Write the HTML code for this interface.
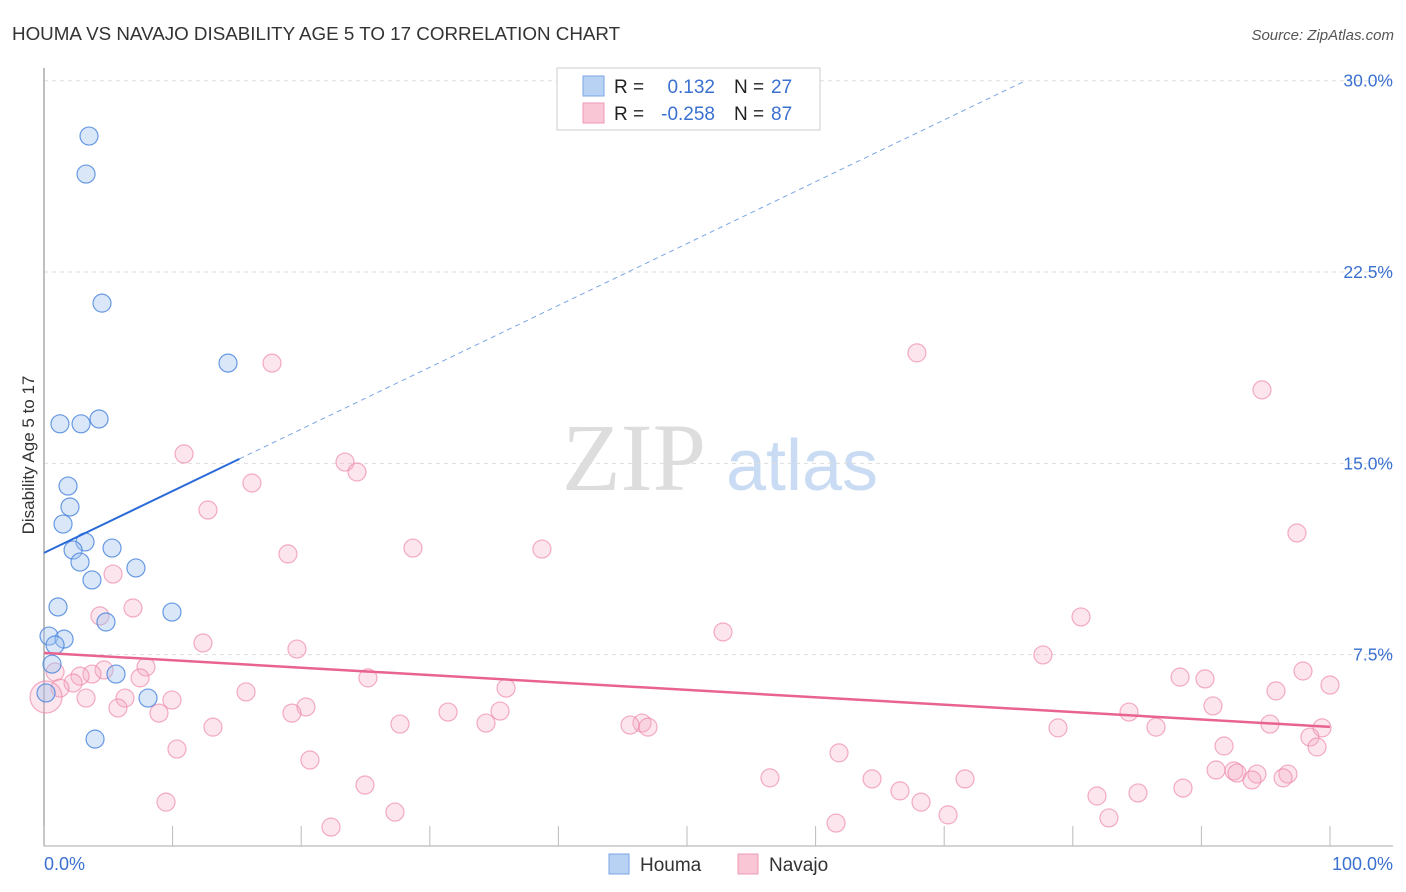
<!DOCTYPE html>
<html><head><meta charset="utf-8"><style>
body{margin:0;background:#fff;font-family:"Liberation Sans",sans-serif;}
svg{display:block}
</style></head><body>
<svg id="c" width="1406" height="892">
<text x="12" y="40" font-size="18.8" fill="#333">HOUMA VS NAVAJO DISABILITY AGE 5 TO 17 CORRELATION CHART</text>
<text x="1394" y="40" font-size="15" fill="#555" font-style="italic" text-anchor="end">Source: ZipAtlas.com</text>
<text x="634" y="490" font-size="96" fill="#ddd" font-family="Liberation Serif,serif" text-anchor="middle">ZIP</text>
<text x="802" y="490" font-size="72" fill="#c9dcf3" text-anchor="middle">atlas</text>
<text transform="translate(34,455) rotate(-90)" font-size="17" fill="#333" text-anchor="middle">Disability Age 5 to 17</text>
<g id="grid"></g><g id="marks"></g>
<g>
<rect x="557" y="68" width="263" height="62" fill="#fff" stroke="#ccc"/>
<rect x="583" y="76" width="21" height="20" fill="#b8d2f4" stroke="#7aa6e6"/>
<rect x="583" y="103" width="21" height="20" fill="#f9c6d6" stroke="#ef9ab5"/>
<text x="614" y="93" font-size="19" fill="#222">R = </text><text x="715" y="93" font-size="19" fill="#3a70d0" text-anchor="end">0.132</text>
<text x="734" y="93" font-size="19" fill="#222">N = </text><text x="771" y="93" font-size="19" fill="#3a70d0">27</text>
<text x="614" y="120" font-size="19" fill="#222">R = </text><text x="715" y="120" font-size="19" fill="#3a70d0" text-anchor="end">-0.258</text>
<text x="734" y="120" font-size="19" fill="#222">N = </text><text x="771" y="120" font-size="19" fill="#3a70d0">87</text>
</g>
<g>
<rect x="609" y="854" width="20" height="20" fill="#b8d2f4" stroke="#7aa6e6"/><text x="640" y="871" font-size="19" fill="#333">Houma</text>
<rect x="738" y="854" width="20" height="20" fill="#f9c6d6" stroke="#ef9ab5"/><text x="769" y="871" font-size="19" fill="#333">Navajo</text>
</g>
</svg>
<script>
const yTicks=[7.5,15,22.5,30];
const yTickLabels=["7.5%","15.0%","22.5%","30.0%"];
const xTickCount=10;
const houmaX=[3.5,3.27,4.51,14.31,1.24,2.88,4.28,1.87,2.02,1.48,3.19,2.26,5.29,2.8,3.73,7.15,1.09,9.95,4.82,0.39,1.56,0.86,0.62,5.6,8.09,0.16,3.97];
const houmaY=[27.83,26.34,21.28,18.93,16.55,16.55,16.74,14.11,13.29,12.62,11.92,11.6,11.68,11.13,10.43,10.9,9.37,9.17,8.78,8.23,8.11,7.88,7.13,6.74,5.8,6.0,4.19];
const navX=[17.73,67.88,94.71,10.89,23.41,24.34,16.17,12.75,97.43,28.69,38.72,18.97,5.37,6.92,4.35,80.64,52.8,12.36,19.67,77.68,7.93,97.9,4.67,3.73,2.8,25.19,88.34,90.28,7.47,0.86,2.26,1.24,35.93,95.8,100,15.71,6.3,9.95,3.27,20.37,90.9,5.75,19.28,8.94,31.42,35.46,84.37,27.68,34.37,13.14,46.5,45.57,46.97,78.85,86.47,95.33,99.38,98.44,10.34,91.76,61.82,20.68,98.99,91.14,92.53,92.77,94.32,96.73,93.93,96.35,56.45,64.39,71.62,24.96,88.57,66.56,85.07,81.88,68.2,9.49,27.29,70.3,82.81,61.59,22.32,0.16];
const navY=[18.93,19.33,17.88,15.37,15.05,14.66,14.23,13.17,12.27,11.68,11.64,11.45,10.66,9.33,9.02,8.98,8.39,7.96,7.72,7.49,7.02,6.86,6.9,6.74,6.66,6.59,6.62,6.55,6.59,6.82,6.39,6.19,6.19,6.08,6.31,6.04,5.8,5.72,5.8,5.45,5.49,5.41,5.21,5.21,5.25,5.29,5.25,4.78,4.82,4.66,4.82,4.74,4.66,4.63,4.66,4.78,4.63,4.27,3.8,3.92,3.65,3.37,3.88,2.98,2.94,2.86,2.82,2.82,2.59,2.67,2.67,2.63,2.63,2.39,2.27,2.16,2.08,1.96,1.72,1.72,1.33,1.22,1.1,0.9,0.74,5.84];
const houmaTrend=[11.49,0.2425];
const navTrend=[7.57,-0.029];
const NS="http://www.w3.org/2000/svg";
const X=v=>44+v*12.86, Y=v=>846-v*25.51;
function mk(t,a,p){const e=document.createElementNS(NS,t);for(const k in a)e.setAttribute(k,a[k]);p.appendChild(e);return e;}
const g=document.getElementById('grid'), m=document.getElementById('marks');
yTicks.forEach((t,i)=>{
 const l=mk('line',{x1:44,x2:1393,y1:Y(t),y2:Y(t),stroke:'#ddd','stroke-dasharray':'4,4'},g);
 
 
 const tx=mk('text',{x:1393,y:Y(t)+6,'font-size':17.5,fill:'#3a70d0','text-anchor':'end'},g);tx.textContent=yTickLabels[i];
 
 
});
const ax=mk('line',{x1:44,x2:44,y1:68,y2:846,stroke:'#aaa','stroke-width':1.5},g);


const bx=mk('line',{x1:44,x2:1393,y1:846,y2:846,stroke:'#aaa','stroke-width':1},g);


for(let i=0;i<=xTickCount;i++){const x=X(i*100/xTickCount);const t=mk('line',{x1:x,x2:x,y1:826,y2:846,stroke:'#bbb'},g);
 
 }
const x0=mk('text',{x:44,y:870,'font-size':18,fill:'#3a70d0'},g);x0.textContent='0.0%';


const x1=mk('text',{x:1393,y:870,'font-size':18,fill:'#3a70d0','text-anchor':'end'},g);x1.textContent='100.0%';


navX.forEach((v,i)=>{const c=mk('circle',{cx:X(v),cy:Y(navY[i]),r:i==navX.length-1?16:9,fill:'rgba(246,170,195,0.3)',stroke:'rgba(236,130,165,0.65)','stroke-width':1.2},m);
 
 });
houmaX.forEach((v,i)=>{const c=mk('circle',{cx:X(v),cy:Y(houmaY[i]),r:9,fill:'rgba(160,195,240,0.4)',stroke:'rgba(70,130,220,0.8)','stroke-width':1.2},m);
 
 });
const hx=15.2, hx2=(30-houmaTrend[0])/houmaTrend[1];
const hs=mk('line',{x1:X(0),y1:Y(houmaTrend[0]),x2:X(hx),y2:Y(houmaTrend[0]+houmaTrend[1]*hx),stroke:'#2a6ad8','stroke-width':2},m);


const hd=mk('line',{x1:X(hx),y1:Y(houmaTrend[0]+houmaTrend[1]*hx),x2:X(hx2),y2:Y(30),stroke:'#7aa6e6','stroke-width':1,'stroke-dasharray':'5,4'},m);


const nl=mk('line',{x1:X(0),y1:Y(navTrend[0]),x2:X(100),y2:Y(navTrend[0]+navTrend[1]*100),stroke:'#e8648f','stroke-width':2.5},m);


</script>
</body></html>
